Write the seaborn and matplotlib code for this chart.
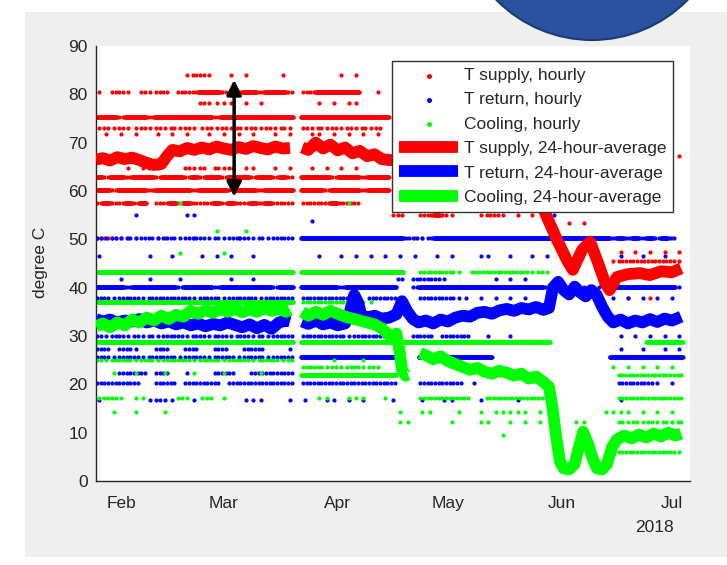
import numpy as np
import pandas as pd
import matplotlib
matplotlib.use("Agg")
import matplotlib.pyplot as plt
import matplotlib.dates as mdates
from matplotlib.patches import Rectangle, Ellipse
import seaborn as sns

START = pd.Timestamp("2018-01-25")
BIN_DAYS = 2  # one occupancy character = two days, starting 25 Jan

# Hourly readings are quantised to a few levels. Each row tells, per 2-day bin,
# how many readings sit on that level: ' ' none, '.' one, ':' two, '#' one every 3 h.
# Bins are written in groups of ten separated by '|'.
supply_levels = [84.0, 80.5, 78.3, 75.3, 73.0, 71.8, 67.2, 64.8, 62.9, 60.2,
                 57.5, 55.0, 53.4, 50.2, 47.4, 45.5, 40.2, 37.9]
supply_rows = [
    "          |  .::.  . |.    .    |   . .    ",
    ". ::. :.::| :::###: :|##:###: ::|######  . ",
    "          |    :.... |. .       |. . ..    ",
    "###:###:##|######:###|####### ##|##########",
    ".:.:..:.:.|:.:..:.:.:|.:.:.:. :.|:.:.:.:.: ",
    " . . .  . |. .  . . .| .  . .  .|. . . . . ",
    "          |          |          |          |          |          |          |         .",
    "    . .:. |  :.: :.: |..  . .  .| . . .    ",
    "#:##:###:#|##:#:##:##|#:##:#: ##|##:###:###",
    "##:####:##|###:####:#|##:#### ##|#:####:###",
    ":#::#:# ::|#:#:::#:#:|:#:#::: ::|::#:::    ",
    "          |          |          |          |.:  ::#:. |  .::. . .",
    "          |          |          |          |          |          |    . .   ",
    ":::...  ..|   .     .|          |  .       |   .. .   |          |          |. .. . .. ",
    "          |          |          |          |          |          |          | . . . . .",
    "          |          |          |          |          |          |          |.::::::::.",
    "          |          |          |          |          |          |          |    .   . ",
    "          |          |          |          |          |          |          |  .  .    ",
]

return_levels = [55.0, 53.8, 50.2, 46.5, 41.8, 40.2, 37.8, 30.0, 27.3, 25.7,
                 22.3, 20.3, 16.8]
return_rows = [
    "     .    |  ..      |          |          |          |          |  .       ",
    "          |          |         .",
    ":.:.:.::.:|:.:::.:.::|:.:.::: ##|##########|##::.:####|##########|##########|:#:#:#:#: ",
    ".      .  |.   . . . | .        |.  . . . .| . .  . . |  ..  .  .| . .      | .  .  .  ",
    "   .   .  | .      . | .        |          | : ::::.  |    . . . ",
    "####:#####|#:####:###|####:## ##|###:######|#  :######|##########|#:.:.:.:.:|#########.",
    "::.:::.:::|:::.:::.::|::.:::: ::|:::::  :::|:   :::::.|. . . . . |          |. . . . . ",
    ":.::.:.:.:|::.::.::.:|:.:.::: ::|::::.:::::|   ::: :::|:  .  .   |          | . . . . .",
    ":: ::.  ::|  ::  ::  |:::   .   |          |          |          |          | .  .  . .",
    "::.:::.:::|:.:::.:::.|:::.::: ##|##########|##  ######|####      |          |##########",
    "   :::: ::|  .   ::: | ::::::   ",
    "::::::  ::|: ::::: ::|::::::: ::|::::::::::|:   ::::::| .        |          | :::::. . ",
    ".      .:.|.  .      |...   . . | .. . .   |.   .  .. |  .    .  |          | .        ",
]

cooling_levels = [57.5, 51.8, 47.2, 43.2, 37.1, 28.8, 25.0, 23.6, 22.3, 21.9,
                  17.2, 14.3, 12.2, 9.5, 6.0]
cooling_rows = [
    "          | .        |          |    .     ",
    "          |      .   |.         ",
    "          | .     .  ",
    "##########|##########|####### ##|##########|##  :::::.| ::::::::.|:.        ",
    "##########|##########|####### ::|::::.:..  ",
    "##########|##########|####### ##|##########|##########|##########|##        |     #####",
    ":.:::.::.:|:::.:::.::|:.:::.:   |  .   .   ",
    "          |          |        ::|:.:.::.:. |          |          |          |. . . . . ",
    "  .  .   .|   .   .  |  .       ",
    "          |          |        ##|##########|#         |          |          | :::::::::",
    ".::. ..   | :. .: .  |          |..  ...  .|    ::::::|:  :::::::|:         | :::::::::",
    "  .  .   .|          |          |          | .  ..   .|  . ..... |.        .|... . . . ",
    "          |          |          |          | ..     . |  ..  . . |.    ..   | :.:.:.:.:",
    "          |          |          |          |          |     .    ",
    "          |          |          |          |          |          |          | ::::::::.",
]

# 24-hour averages: (days after 25 Jan, degree C), one list per unbroken segment
supply_avg = [
    [(0.2, 66.5), (2, 66.8), (4, 66.3), (6, 67.0), (8, 66.6), (10, 66.9), (12, 66.4),
     (14, 65.8), (16, 65.4), (18, 65.6), (19.5, 67.2), (21, 68.5), (23, 68.2),
     (25, 68.9), (27, 68.5), (29, 69.0), (31, 68.6), (33, 69.2), (35, 68.8),
     (37, 68.5), (39, 69.1), (41, 68.7), (43, 69.3), (45, 68.9), (47, 68.6),
     (49, 69.2), (51, 68.8), (53, 68.9)],
    [(56.3, 69.0), (58, 68.5), (60, 70.0), (62, 68.8), (64, 69.6), (66, 68.4),
     (68, 69.0), (70, 67.8), (72, 68.3), (74, 67.2), (76, 67.6), (78, 66.6),
     (80, 66.4), (88, 66.5), (100, 66.0), (112, 65.0), (118, 62.0), (121, 58.0),
     (123.3, 54.0), (125.7, 49.9), (128.4, 45.7), (130, 43.7), (132.5, 47.8),
     (134.7, 49.5), (136.6, 45.7), (138.8, 41.0), (140, 39.5), (142, 42.2),
     (145, 42.8), (148.3, 43.0), (151, 42.6), (154, 43.4), (157, 43.2), (159.5, 44.0)],
]
return_avg = [
    [(0.2, 33.5), (2, 33.0), (4, 33.4), (6, 32.8), (8, 33.2), (10, 33.0), (12, 33.5),
     (14, 32.8), (16, 33.2), (18, 32.6), (20, 33.0), (22, 32.4), (24, 32.8),
     (26, 32.2), (28, 32.6), (30, 32.0), (32, 32.5), (34, 32.2), (36, 32.8),
     (38, 32.3), (40, 31.8), (42, 32.4), (44, 31.6), (46, 32.3), (48, 31.5),
     (50, 32.8), (52, 33.2), (53, 33.0)],
    [(56.3, 33.0), (58, 32.5), (60, 33.2), (62, 32.4), (64, 32.8), (66, 32.2),
     (68, 32.6), (69.3, 35.0), (70.5, 38.5), (71.5, 37.0), (72.5, 34.2), (74, 33.8),
     (76, 34.2), (78, 33.6), (80, 33.8), (82, 34.5), (83.5, 37.2), (85, 35.0),
     (86.5, 33.5), (88, 32.8), (90, 33.2), (92, 32.6), (94, 33.4), (96, 33.0),
     (98, 33.8), (100, 34.2), (102, 34.0), (104, 34.8), (106, 35.0), (108, 34.6),
     (110, 35.3), (112, 35.6), (114, 35.2), (116, 35.8), (118, 35.5), (120, 36.0),
     (122, 35.4), (123.5, 35.8), (124.6, 40.0), (126, 41.2), (127.5, 39.5),
     (129, 38.6), (130.5, 40.2), (132, 39.0), (133.5, 38.2), (135, 39.5),
     (136.5, 38.5), (138, 36.0), (139.5, 34.0), (141, 32.8), (143, 33.4),
     (145, 32.6), (147, 33.2), (149, 32.8), (151, 33.5), (153, 32.9), (155, 33.6),
     (157, 33.2), (159.5, 34.0)],
]
cooling_avg = [
    [(0.2, 32.0), (2, 32.6), (4, 31.8), (6, 32.8), (8, 32.2), (10, 33.4), (12, 32.8),
     (14, 33.8), (16, 33.2), (18, 34.2), (20, 33.5), (22, 34.4), (24, 34.0),
     (26, 35.2), (28, 34.6), (30, 35.4), (32, 34.8), (34, 35.6), (36, 35.0),
     (38, 35.6), (40, 34.9), (42, 35.5), (44, 35.0), (46, 35.8), (48, 35.2),
     (50, 35.6), (52, 35.0), (53, 35.4)],
    [(56.3, 35.0), (58, 34.2), (60, 35.0), (62, 34.4), (64, 35.2), (66, 34.6),
     (68, 34.0), (70, 33.6), (72, 33.2), (74, 32.8), (76, 32.4), (78, 31.6),
     (79.5, 30.5), (81, 29.6), (82, 30.5), (82.8, 27.0), (83.5, 23.0),
     (84.5, 21.8), (85.2, 22.0)],
    [(88.4, 26.5), (90, 26.0), (92, 25.2), (94, 25.8), (96, 24.8), (98, 24.2),
     (100, 23.6), (102, 23.0), (104, 23.4), (106, 22.6), (108, 22.2), (110, 22.8),
     (112, 22.4), (114, 21.8), (116, 22.2), (118, 21.2), (120, 21.6), (122, 20.5),
     (123.5, 19.5), (124.5, 15.0), (125.5, 9.0), (126.5, 4.0), (127.5, 2.6),
     (129, 2.4), (130.5, 3.5), (131.5, 6.5), (132.8, 10.2), (134, 8.0),
     (135.5, 4.5), (136.6, 2.6), (138, 2.4), (139.3, 3.5), (140.7, 7.0),
     (142, 8.6), (144, 9.4), (146, 8.8), (148, 9.6), (150, 9.0), (152, 9.8),
     (154, 9.2), (156, 10.0), (158, 9.4), (159.5, 9.8)],
]

# Double arrow marking the supply temperature swing
ARROW_DAY = 37.8
ARROW_LOW, ARROW_HIGH = 58.8, 83.0

X_FROM, X_TO = 0.19, 161.9
Y_FROM, Y_TO = 0, 90


def readings(levels, rows):
    days, vals = [], []
    offsets = {".": [1.0], ":": [0.5, 1.5], "#": [k / 8 for k in range(16)]}
    for level, row in zip(levels, rows):
        cells = "".join(g.ljust(10)[:10] for g in row.split("|"))
        for i, c in enumerate(cells):
            for o in offsets.get(c, []):
                days.append(i * BIN_DAYS + o)
                vals.append(level)
    return pd.DataFrame({"time": START + pd.to_timedelta(days, unit="D"),
                         "value": vals})


def to_time(days):
    return START + pd.to_timedelta(np.asarray(days, dtype=float), unit="D")


sns.set_style("white")
plt.rcParams["font.family"] = ["Liberation Sans", "DejaVu Sans"]

W, H = 727, 565
fig = plt.figure(figsize=(W / 100, H / 100), dpi=100)
fig.patch.set_facecolor("white")
fig.add_artist(Rectangle((25 / W, 1 - 557 / H), (W - 25) / W, (557 - 12) / H,
                         transform=fig.transFigure, facecolor="#efefef",
                         edgecolor="none", zorder=-2))
fig.add_artist(Ellipse((592 / W, 1 + 94 / H), 268 / W, 268 / H,
                       transform=fig.transFigure, facecolor="#2a52a0",
                       edgecolor="#1c3a74", lw=1.5, zorder=5))

ax = fig.add_axes([96 / W, 1 - 481 / H, 594 / W, 435 / H])
ax.set_facecolor("white")

RED, BLUE, GREEN = (1, 0, 0), (0, 0, 1), (0, 1, 0)
series = [
    ("T supply", RED, supply_levels, supply_rows, supply_avg),
    ("T return", BLUE, return_levels, return_rows, return_avg),
    ("Cooling", GREEN, cooling_levels, cooling_rows, cooling_avg),
]

for name, col, levels, rows, _ in series:
    df = readings(levels, rows)
    sns.scatterplot(data=df, x="time", y="value", color=col, s=9, linewidth=0,
                    label=f"{name}, hourly", ax=ax, zorder=2)

for name, col, _, _, segments in series:
    for k, seg in enumerate(segments):
        d, v = zip(*seg)
        sns.lineplot(x=to_time(d), y=list(v), color=col, lw=8.5, estimator=None,
                     sort=False, ax=ax, zorder=3, solid_capstyle="butt",
                     label=f"{name}, 24-hour-average" if k == 0 else None)

ax.annotate("", xy=(to_time([ARROW_DAY])[0], ARROW_LOW),
            xytext=(to_time([ARROW_DAY])[0], ARROW_HIGH),
            arrowprops=dict(arrowstyle="<|-|>", color="black", lw=2.5,
                            mutation_scale=22, shrinkA=0, shrinkB=0),
            zorder=4)

ax.set_xlim(to_time([X_FROM])[0], to_time([X_TO])[0])
ax.set_ylim(Y_FROM, Y_TO)
ax.set_yticks(range(0, 91, 10))
ax.xaxis.set_major_locator(mdates.MonthLocator())
ax.xaxis.set_major_formatter(mdates.DateFormatter("%b"))
ax.set_xlabel("")
ax.set_ylabel("degree C", fontsize=12.5, color="#262626")
ax.yaxis.set_label_coords(-0.081, 0.503)

for side in ("top", "right"):
    ax.spines[side].set_visible(False)
for side in ("left", "bottom"):
    ax.spines[side].set_color("#262626")
    ax.spines[side].set_linewidth(1.0)
ax.tick_params(direction="in", length=5, width=1, colors="#262626",
               labelsize=12.5)
ax.tick_params(axis="x", pad=11)
ax.tick_params(axis="y", pad=6)

handles, labels = ax.get_legend_handles_labels()
order = [f"{n}, hourly" for n, *_ in series] + [f"{n}, 24-hour-average" for n, *_ in series]
lookup = dict(zip(labels, handles))
leg = ax.legend([lookup[l] for l in order], order, loc="upper right",
                bbox_to_anchor=((673 - 96) / 594, (481 - 61) / 435),
                borderaxespad=0, fontsize=12.5, frameon=True, fancybox=False,
                framealpha=1, edgecolor="#333333", handlelength=3.4,
                handletextpad=0.3, labelspacing=0.53, borderpad=0.4,
                markerscale=1.2)
leg.get_frame().set_linewidth(1.0)
leg.set_zorder(6)

fig.text(674 / W, 1 - 528 / H, "2018", ha="right", va="center",
         fontsize=12.5, color="#262626")

fig.savefig("out.png", dpi=100, facecolor=fig.get_facecolor())
